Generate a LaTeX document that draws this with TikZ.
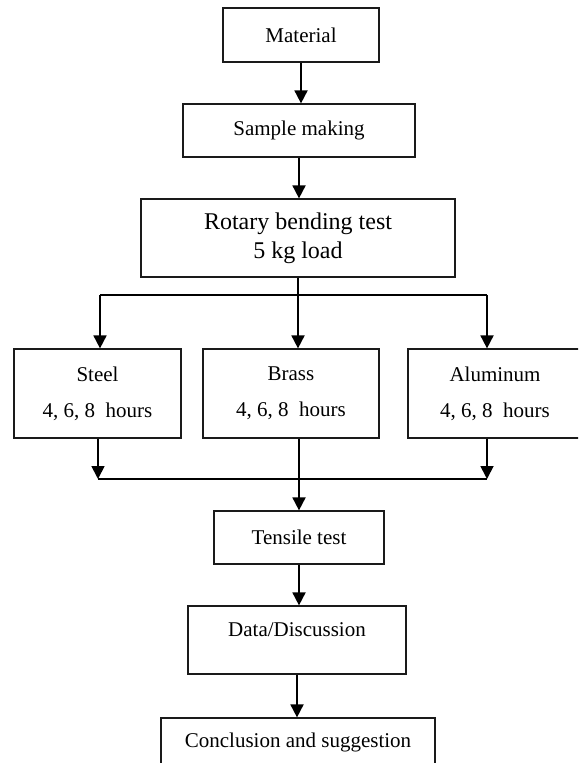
\documentclass[tikz,border=0pt]{standalone}
\usepackage{fontspec}
\setmainfont{Liberation Serif}
\usetikzlibrary{arrows.meta,positioning}
\definecolor{cInk}{HTML}{000000}
\definecolor{cEdge}{HTML}{1A1A1A}
\newcommand{\pu}{0.5pt}
\tikzset{
  pbox/.style={draw=cEdge,line width=0.6pt,align=center,inner sep=0pt,font=\fontsize{10.5}{12.6}\selectfont,text=cInk},
  arr/.style={-{Triangle[length=6.5pt,width=6.5pt]},line width=0.9pt,color=cInk},
  ln/.style={line width=0.9pt,color=cInk},
}

\begin{document}
\begin{tikzpicture}[x=0.5pt,y=-0.5pt]
        \clip (0,0) rectangle (578,763);
        % main chain
        \node[pbox,minimum width=156*\pu,minimum height=54*\pu] (material) at (301,35) {Material};
        \node[pbox,minimum width=232*\pu,minimum height=53*\pu] (sample) at (299,130.5) {Sample making};
        \node[pbox,font=\fontsize{12}{14.4}\selectfont,minimum width=314*\pu,minimum height=78*\pu] (rotary) at (298,238) {Rotary bending test\\5 kg load};
        % the three metals
        \node[pbox,minimum width=167*\pu,minimum height=89*\pu] (steel) at (97.5,393.5) {Steel\\[5.4pt]4, 6, 8\ \ hours};
        \node[pbox,minimum width=176*\pu,minimum height=89*\pu] (brass) at (291,393.5) {Brass\\[5.4pt]4, 6, 8\ \ hours};
        \node[pbox,minimum width=174*\pu,minimum height=89*\pu] (alum) at (495,393.5) {Aluminum\\[5.4pt]4, 6, 8\ \ hours};
        \node[pbox,minimum width=170*\pu,minimum height=53*\pu] (tensile) at (299,537.5) {Tensile test};
        \node[pbox,minimum width=218*\pu,minimum height=68*\pu] (data) at (297,640) {Data/Discussion\\[-2pt]\mbox{}};
        \node[pbox,minimum width=274*\pu,minimum height=48*\pu] (concl) at (298,742) {Conclusion and suggestion};

        \coordinate (bl) at (100,295);
        \coordinate (br) at (487,295);
        \coordinate (ml) at (98,479);
        \coordinate (mr) at (487,479);

        \draw[arr] (material.south) -- (material.south |- sample.north);
        \draw[arr] (sample.south) -- (sample.south |- rotary.north);
        % split
        \draw[ln] (rotary.south) -- (rotary.south |- bl);
        \draw[ln] (bl) -- (br);
        \draw[arr] (bl) -- (bl |- steel.north);
        \draw[arr] (rotary.south |- bl) -- (rotary.south |- brass.north);
        \draw[arr] (br) -- (br |- alum.north);
        % merge
        \draw[arr] (ml |- steel.south) -- (ml);
        \draw[arr] (mr |- alum.south) -- (mr);
        \draw[ln] (ml) -- (mr);
        \draw[arr] (tensile.north |- brass.south) -- (tensile.north);
        \draw[arr] (tensile.south) -- (tensile.south |- data.north);
        \draw[arr] (data.south) -- (data.south |- concl.north);
      \end{tikzpicture}
\end{document}
